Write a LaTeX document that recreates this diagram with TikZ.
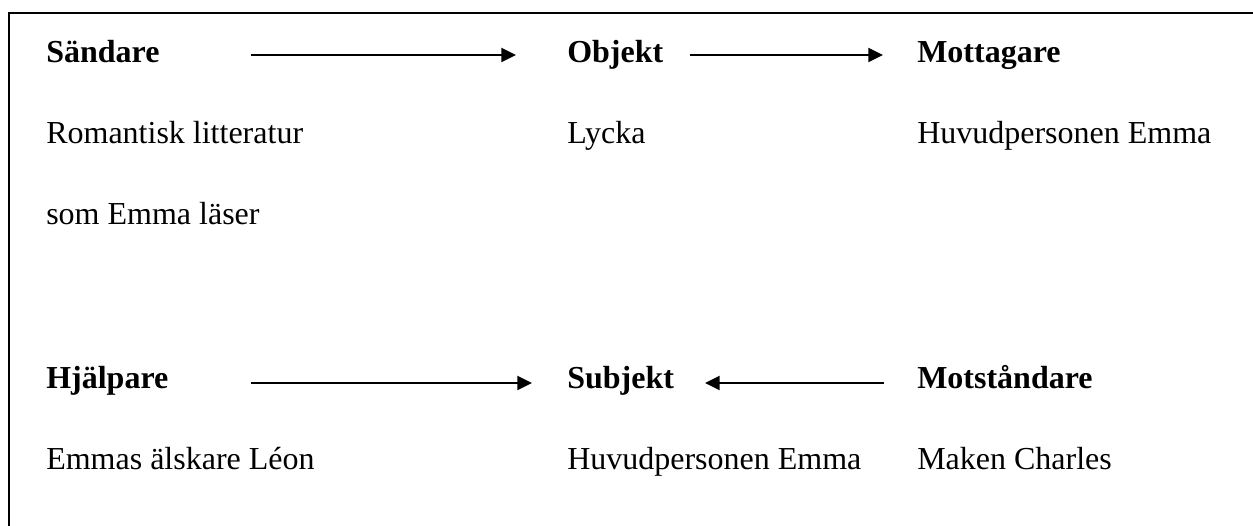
\documentclass[tikz,border=0pt]{standalone}
\usepackage{fontspec}
\setmainfont{Liberation Serif}
\usetikzlibrary{arrows.meta}
\begin{document}
\begin{tikzpicture}[x=0.75pt,y=-0.75pt,
  txt/.style={anchor=base west,inner sep=0pt,font=\fontsize{24}{28}\selectfont},
  hdr/.style={txt,font=\fontsize{24}{28}\selectfont\bfseries},
  conn/.style={line width=1.6pt,-{Triangle[length=11pt,width=10.5pt]}},
  frame/.style={line width=1.5pt}]
\useasboundingbox (0,0) rectangle (1253,525);
\draw[frame] (1260,13) -- (9,13) -- (9,530);
% top block
\node[hdr] (sandare) at (46,62) {Sändare};
\node[hdr] (objekt) at (567,62) {Objekt};
\node[hdr] (mottagare) at (917,62) {Mottagare};
\node[txt] (rom) at (46,143) {Romantisk litteratur};
\node[txt] (lycka) at (567,143) {Lycka};
\node[txt] (huvud1) at (917,143) {Huvudpersonen Emma};
\node[txt] (som) at (46,224) {som Emma läser};
% bottom block
\node[hdr] (hjalpare) at (46,388) {Hjälpare};
\node[hdr] (subjekt) at (567,388) {Subjekt};
\node[hdr] (motst) at (917,388) {Motståndare};
\node[txt] (leon) at (46,469) {Emmas älskare Léon};
\node[txt] (huvud2) at (567,469) {Huvudpersonen Emma};
\node[txt] (charles) at (917,469) {Maken Charles};
% connector ends
\coordinate (a1s) at (251,55);
\coordinate (a1e) at (516,55);
\coordinate (a2s) at (690,55);
\coordinate (a2e) at (883,55);
\coordinate (a3s) at (251,383);
\coordinate (a3e) at (532,383);
\coordinate (a4s) at (884,383);
\coordinate (a4e) at (705,383);
\draw[conn] (a1s) -- (a1e);
\draw[conn] (a2s) -- (a2e);
\draw[conn] (a3s) -- (a3e);
\draw[conn] (a4s) -- (a4e);
\end{tikzpicture}
\end{document}
